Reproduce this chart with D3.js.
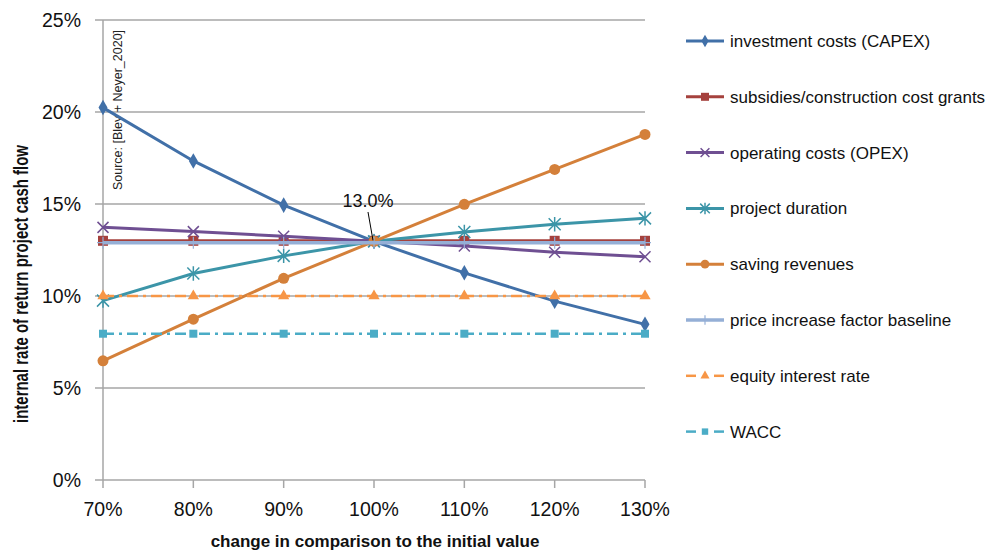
<!DOCTYPE html>
<html><head><meta charset="utf-8">
<script src="https://cdn.jsdelivr.net/npm/d3@7"></script>
<style>body{margin:0;background:#fff}svg{display:block;font-family:"Liberation Sans",Arial,sans-serif}</style>
</head><body>
<svg id="c" width="990" height="550"></svg>
<script>
const categories = ["70%","80%","90%","100%","110%","120%","130%"];
const yTicks = [0,5,10,15,20,25];
const seriesNames = ["investment costs (CAPEX)","subsidies/construction cost grants","operating costs (OPEX)","project duration","saving revenues","price increase factor baseline","equity interest rate","WACC"];
const capex     = [20.24,17.34,14.94,12.97,11.26,9.72,8.46];
const subsidies = [13.0,13.0,13.0,13.0,13.0,13.0,13.0];
const opex      = [13.73,13.5,13.25,12.97,12.72,12.38,12.13];
const duration  = [9.75,11.22,12.18,12.97,13.48,13.9,14.22];
const saving    = [6.48,8.74,10.96,12.97,14.98,16.88,18.78];
const baseline  = [12.9,12.9,12.9,12.9,12.9,12.9,12.9];
const equity    = [10.0,10.0,10.0,10.0,10.0,10.0,10.0];
const wacc      = [7.95,7.95,7.95,7.95,7.95,7.95,7.95];
const annotationText = "13.0%";

const styles = [
 {c:"#4170A8", m:"diamond", w:3, dash:null},
 {c:"#A5413D", m:"square", w:3, dash:null},
 {c:"#6F4F92", m:"x", w:3, dash:null},
 {c:"#3C95A8", m:"asterisk", w:3, dash:null},
 {c:"#D4803A", m:"circle", w:3, dash:null},
 {c:"#95AFD6", m:"plus", w:3.5, dash:null},
 {c:"#F79646", m:"triangle", w:2.5, dash:"11,5,3,5"},
 {c:"#4BACC6", m:"square2", w:2.5, dash:"11,5,3,5"}
];
const data = [capex,subsidies,opex,duration,saving,baseline,equity,wacc];

const svg = d3.select("#c");
const x = d3.scalePoint().domain(categories).range([103,645]);
const y = d3.scaleLinear().domain([0,25]).range([480,20]);
const grid = "#A6A6A6";

// gridlines
svg.append("g").selectAll("line").data(yTicks).join("line")
  .attr("x1",95).attr("x2",645).attr("y1",d=>y(d)).attr("y2",d=>y(d))
  .attr("stroke",grid).attr("stroke-width",1.5);
// y axis line
svg.append("line").attr("x1",103).attr("x2",103).attr("y1",y(25)).attr("y2",y(0)).attr("stroke",grid).attr("stroke-width",1.5);
// x ticks
svg.append("g").selectAll("line").data(categories).join("line")
  .attr("x1",d=>x(d)).attr("x2",d=>x(d)).attr("y1",480).attr("y2",488)
  .attr("stroke",grid).attr("stroke-width",1.5);

// y labels
svg.append("g").selectAll("text").data(yTicks).join("text")
  .attr("x",81).attr("y",d=>y(d)+7).attr("text-anchor","end")
  .attr("font-size",19.5).attr("fill","#111").text(d=>d+"%");
// x labels
svg.append("g").selectAll("text").data(categories).join("text")
  .attr("x",d=>x(d)).attr("y",516).attr("text-anchor","middle")
  .attr("font-size",19.5).attr("fill","#111").text(d=>d);

// titles
svg.append("text").attr("x",375).attr("y",547).attr("text-anchor","middle")
  .attr("font-size",17).attr("font-weight","bold").attr("fill","#111")
  .text("change in comparison to the initial value");
svg.append("text").attr("transform","translate(28,284) rotate(-90)").attr("text-anchor","middle")
  .attr("font-size",19.5).attr("font-weight","bold").attr("fill","#111")
  .attr("textLength",278).attr("lengthAdjust","spacingAndGlyphs")
  .text("internal rate of return project cash flow");
svg.append("text").attr("transform","translate(122,110) rotate(-90)").attr("text-anchor","middle")
  .attr("font-size",12.5).attr("fill","#222")
  .text("Source: [Bley + Neyer_2020]");

function marker(g, type, cx, cy, col, s){
  s = s||1;
  if(type==="diamond"){
    g.append("path").attr("d",d3.symbol(d3.symbolDiamond, 70*s*s)()).attr("transform",`translate(${cx},${cy})`).attr("fill",col);
  } else if(type==="square"){
    const h=5*s; g.append("rect").attr("x",cx-h).attr("y",cy-h).attr("width",2*h).attr("height",2*h).attr("fill",col);
  } else if(type==="square2"){
    const h=4*s; g.append("rect").attr("x",cx-h).attr("y",cy-h).attr("width",2*h).attr("height",2*h).attr("fill",col);
  } else if(type==="circle"){
    g.append("circle").attr("cx",cx).attr("cy",cy).attr("r",5.5*s).attr("fill",col);
  } else if(type==="triangle"){
    g.append("path").attr("d",d3.symbol(d3.symbolTriangle, 55*s*s)()).attr("transform",`translate(${cx},${cy})`).attr("fill",col);
  } else if(type==="x"){
    const h=5.5*s; g.append("path").attr("d",`M${cx-h},${cy-h}L${cx+h},${cy+h}M${cx-h},${cy+h}L${cx+h},${cy-h}`).attr("stroke",col).attr("stroke-width",1.5);
  } else if(type==="asterisk"){
    const h=6*s; g.append("path").attr("d",`M${cx-h},${cy-h}L${cx+h},${cy+h}M${cx-h},${cy+h}L${cx+h},${cy-h}M${cx},${cy-h*1.2}L${cx},${cy+h*1.2}`).attr("stroke",col).attr("stroke-width",1.5);
  } else if(type==="plus"){
    const h=6*s; g.append("path").attr("d",`M${cx-h},${cy}L${cx+h},${cy}M${cx},${cy-h}L${cx},${cy+h}`).attr("stroke",col).attr("stroke-width",1.2);
  }
}

const line = d3.line().x((d,i)=>x(categories[i])).y(d=>y(d));
data.forEach((vals,k)=>{
  const st = styles[k];
  const g = svg.append("g");
  g.append("path").attr("d",line(vals)).attr("fill","none").attr("stroke",st.c)
    .attr("stroke-width",st.w).attr("stroke-dasharray",st.dash);
  vals.forEach((v,i)=>marker(g, st.m, x(categories[i]), y(v), st.c, 1));
});

// annotation
svg.append("line").attr("x1",368).attr("y1",212).attr("x2",373).attr("y2",y(12.97)-1).attr("stroke","#000").attr("stroke-width",1);
svg.append("text").attr("x",368).attr("y",207).attr("text-anchor","middle").attr("font-size",18).attr("fill","#111").text(annotationText);

// legend
const lg = svg.append("g");
seriesNames.forEach((name,k)=>{
  const st = styles[k];
  const ly = 41 + k*55.8;
  const g = lg.append("g");
  if(st.dash){
    g.append("line").attr("x1",686).attr("x2",696).attr("y1",ly).attr("y2",ly).attr("stroke",st.c).attr("stroke-width",st.w);
    g.append("line").attr("x1",714).attr("x2",724).attr("y1",ly).attr("y2",ly).attr("stroke",st.c).attr("stroke-width",st.w);
  } else {
    g.append("line").attr("x1",686).attr("x2",724).attr("y1",ly).attr("y2",ly).attr("stroke",st.c).attr("stroke-width",st.w);
  }
  marker(g, st.m, 705, ly, st.c, 0.8);
  g.append("text").attr("x",730).attr("y",ly+6).attr("font-size",17).attr("fill","#111").text(name);
});
</script>
</body></html>
